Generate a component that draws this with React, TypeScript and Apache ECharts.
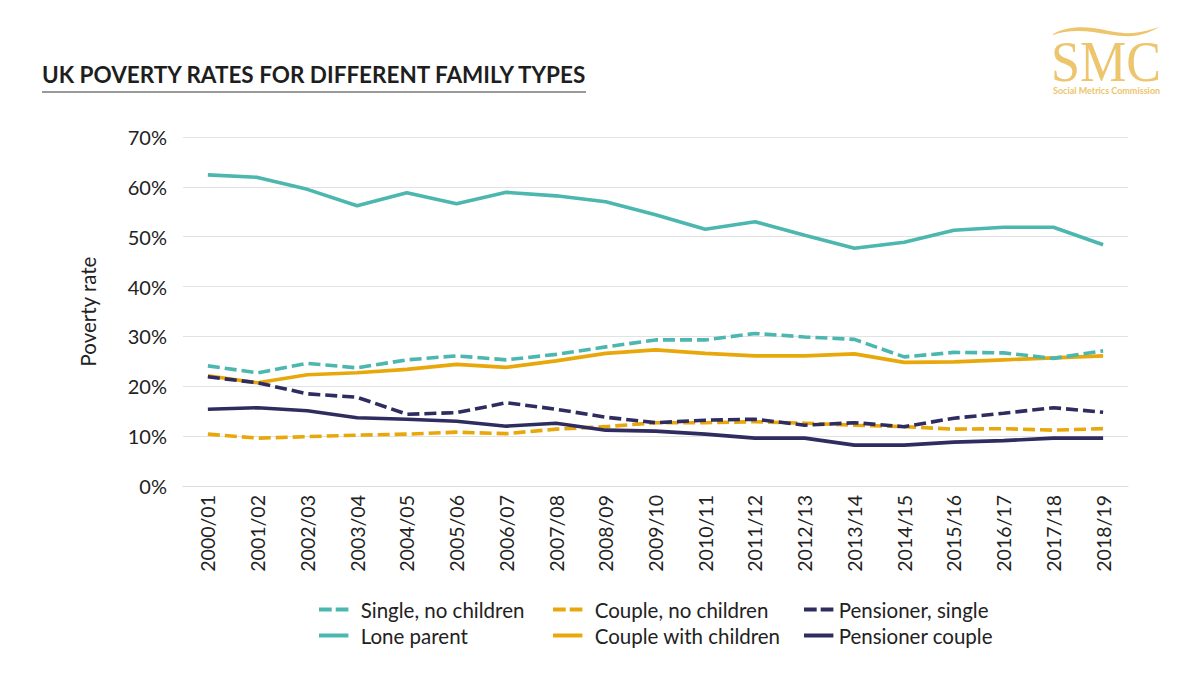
import React, { useEffect, useRef } from "react";
import * as echarts from "echarts";

const years = ["2000/01","2001/02","2002/03","2003/04","2004/05","2005/06","2006/07","2007/08","2008/09","2009/10","2010/11","2011/12","2012/13","2013/14","2014/15","2015/16","2016/17","2017/18","2018/19"];

const singleNoChildren = [24.1,22.7,24.6,23.7,25.3,26.1,25.3,26.4,27.9,29.3,29.3,30.6,29.9,29.4,25.9,26.8,26.7,25.6,27.1];
const loneParent = [62.4,61.9,59.5,56.2,58.8,56.6,58.9,58.2,57.0,54.4,51.5,53.0,50.3,47.7,48.9,51.3,51.9,51.9,48.4];
const coupleNoChildren = [10.4,9.6,9.9,10.2,10.4,10.8,10.5,11.4,11.9,12.7,12.7,12.9,12.6,12.2,11.9,11.4,11.5,11.2,11.5];
const coupleWithChildren = [22.1,20.7,22.3,22.7,23.4,24.4,23.8,25.1,26.6,27.3,26.6,26.1,26.1,26.5,24.8,24.9,25.3,25.7,26.1];
const pensionerSingle = [21.9,20.7,18.5,17.8,14.4,14.7,16.7,15.4,13.8,12.7,13.2,13.4,12.2,12.7,11.9,13.6,14.6,15.7,14.8];
const pensionerCouple = [15.4,15.7,15.1,13.7,13.4,13.0,12.0,12.6,11.2,11.0,10.4,9.6,9.6,8.2,8.2,8.8,9.1,9.6,9.6];

const yTicks = [0, 10, 20, 30, 40, 50, 60, 70];

const TEAL = "#4cb7ae";
const GOLD = "#e8a80c";
const NAVY = "#2f2c5f";
const LOGO = "#edc56c";
const FONT = "Lato, 'Open Sans', sans-serif";

const DASH_ICON = "path://M0,0h12.7v4h-12.7z M16.7,0h12.7v4h-12.7z";
const SOLID_ICON = "path://M0,0h29.4v4h-29.4z";

echarts.graphic.registerShape(
  "logoWave",
  echarts.graphic.extendPath(
    "M0,8 C10,2 25,0 40,2 C55,4 65,8 80,7 C90,6 100,3 106,1 C100,5 90,9 80,10 C65,11 55,8 40,6 C25,4 10,5 0,9 Z",
    {}
  )
);

export default function App() {
  const ref = useRef<HTMLDivElement>(null);
  useEffect(() => {
    if (!ref.current) return;
    const chart = echarts.init(ref.current, null, { renderer: "svg" });
    const mk = (name: string, data: number[], color: string, dashed: boolean) => ({
      name,
      type: "line",
      data,
      symbol: "none",
      showSymbol: false,
      lineStyle: { color, width: 3.6, type: dashed ? [12, 5] : "solid" },
      itemStyle: { color },
    });
    const legendCommon = {
      orient: "vertical",
      top: 594,
      itemWidth: 30,
      itemHeight: 4,
      itemGap: 5,
      textStyle: { fontFamily: FONT, fontSize: 20.5, lineHeight: 20, color: "#222", padding: [0, 0, 0, 7] },
    };
    chart.setOption({
      animation: false,
      backgroundColor: "#fff",
      textStyle: { fontFamily: FONT },
      grid: { left: 183, right: 72, top: 137, bottom: 189, containLabel: false },
      legend: [
        {
          ...legendCommon,
          left: 314,
          data: [
            { name: "Single, no children", icon: DASH_ICON },
            { name: "Lone parent", icon: SOLID_ICON },
          ],
        },
        {
          ...legendCommon,
          left: 548,
          data: [
            { name: "Couple, no children", icon: DASH_ICON },
            { name: "Couple with children", icon: SOLID_ICON },
          ],
        },
        {
          ...legendCommon,
          left: 799,
          textStyle: { ...legendCommon.textStyle, padding: [0, 0, 0, 0] },
          data: [
            { name: "Pensioner, single", icon: DASH_ICON },
            { name: "Pensioner couple", icon: SOLID_ICON },
          ],
        },
      ],
      xAxis: {
        type: "category",
        data: years,
        boundaryGap: true,
        axisLine: { show: true, lineStyle: { color: "#dcdcdc", width: 1 } },
        axisTick: { show: false },
        axisLabel: { rotate: 90, margin: 9, fontSize: 19.5, color: "#222", fontFamily: FONT },
      },
      yAxis: {
        type: "value",
        min: 0,
        max: 70,
        interval: 10,
        name: "Poverty rate",
        nameLocation: "middle",
        nameGap: 85,
        nameTextStyle: { fontSize: 20.5, color: "#222", fontFamily: FONT },
        axisLine: { show: false },
        axisTick: { show: false },
        splitLine: { lineStyle: { color: "#e2e2e2", width: 1 } },
        axisLabel: {
          margin: 16,
          fontSize: 20,
          color: "#222",
          fontFamily: FONT,
          formatter: (v: number) => (yTicks.includes(v) ? v + "%" : ""),
        },
      },
      series: [
        mk("Couple, no children", coupleNoChildren, GOLD, true),
        mk("Pensioner couple", pensionerCouple, NAVY, false),
        mk("Couple with children", coupleWithChildren, GOLD, false),
        mk("Single, no children", singleNoChildren, TEAL, true),
        mk("Pensioner, single", pensionerSingle, NAVY, true),
        mk("Lone parent", loneParent, TEAL, false),
      ],
      graphic: [
        {
          type: "text",
          x: 42,
          y: 74,
          style: {
            text: "UK POVERTY RATES FOR DIFFERENT FAMILY TYPES",
            fontFamily: FONT,
            fontWeight: "bold",
            fontSize: 22.5,
            fill: "#1e1e1e",
            verticalAlign: "middle",
            align: "left",
          },
        },
        {
          type: "line",
          shape: { x1: 42, y1: 92, x2: 586, y2: 92 },
          style: { stroke: "#9a9a9a", lineWidth: 2 },
        },
        {
          type: "logoWave",
          x: 1053,
          y: 26,
          style: { fill: LOGO },
        },
        {
          type: "text",
          x: 1051,
          y: 62,
          scaleX: 0.93,
          style: {
            text: "SMC",
            fontFamily: "'Liberation Serif', 'DejaVu Serif', serif",
            fontSize: 56,
            lineHeight: 40,
            fill: LOGO,
            verticalAlign: "middle",
            align: "left",
          },
        },
        {
          type: "text",
          x: 1053,
          y: 90,
          style: {
            text: "Social Metrics Commission",
            fontFamily: FONT,
            fontWeight: "bold",
            fontSize: 9,
            fill: LOGO,
            verticalAlign: "middle",
            align: "left",
          },
        },
      ],
    });
    return () => chart.dispose();
  }, []);
  return (
    <div
      ref={ref}
      style={{ position: "absolute", left: 0, top: 0, width: 1200, height: 675 }}
    />
  );
}
